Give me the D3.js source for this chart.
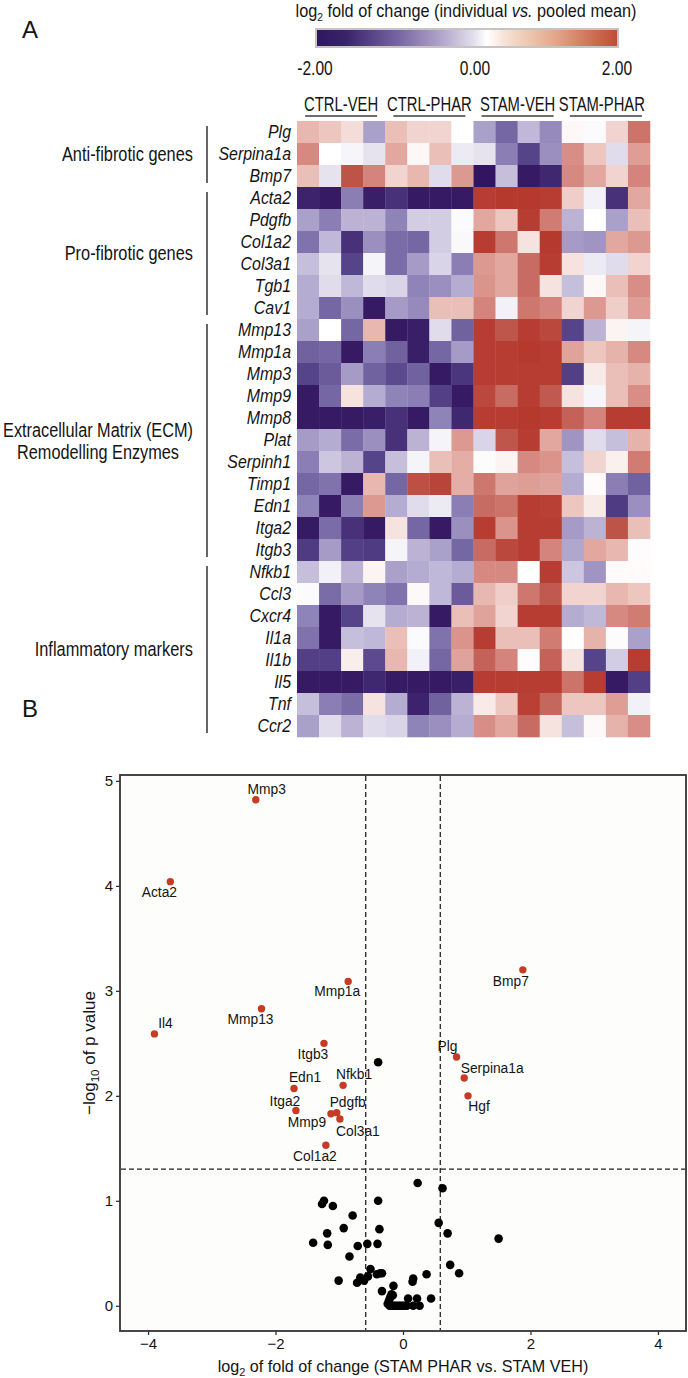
<!DOCTYPE html>
<html><head><meta charset="utf-8">
<script src="https://cdn.jsdelivr.net/npm/d3@7"></script>
<style>body{margin:0;background:#fff;} svg{display:block;font-family:"Liberation Sans",Arial,Helvetica,sans-serif;}</style>
</head><body><svg id="c" width="688" height="1378"></svg>
<script>
// ---------------- DATA ----------------
const genes = ["Plg","Serpina1a","Bmp7","Acta2","Pdgfb","Col1a2","Col3a1","Tgb1","Cav1",
  "Mmp13","Mmp1a","Mmp3","Mmp9","Mmp8","Plat","Serpinh1","Timp1","Edn1","Itga2","Itgb3",
  "Nfkb1","Ccl3","Cxcr4","Il1a","Il1b","Il5","Tnf","Ccr2"];
const sampleGroups = ["CTRL-VEH","CTRL-PHAR","STAM-VEH","STAM-PHAR"];
const samplesPerGroup = 4;
const categoryNames = [["Anti-fibrotic genes"],["Pro-fibrotic genes"],["Extracellular Matrix (ECM)","Remodelling Enzymes"],["Inflammatory markers"]];
const categoryFirst = [0,3,9,20];
const categoryLast = [2,8,19,27];
const colorbarLabels = ["-2.00","0.00","2.00"];
const colorbarValues = [-2,0,2];
// log2 fold change (individual vs pooled mean), rows = genes, cols = 16 samples
const heatValues = [
 [0.5,0.4,0.25,-0.7,0.45,0.3,0.3,0.0,-0.7,-1.2,-0.5,-0.9,0.05,-0.03,0.3,1.2],
 [0.95,0.0,-0.07,-0.2,0.65,0.05,0.45,-0.15,-0.2,-1.0,-1.5,-0.85,0.9,0.4,-0.25,0.75],
 [0.45,-0.2,1.6,1.0,0.3,0.5,-0.25,0.8,-2,-0.45,-1.95,-1.8,0.95,0.65,0.3,1.0],
 [-1.85,-1.95,-1.0,-1.9,-1.7,-1.95,-1.95,-1.95,1.9,1.95,1.95,1.9,0.35,-0.1,-1.7,0.65],
 [-0.7,-1.0,-0.55,-0.55,-0.95,-0.35,-0.35,-0.03,0.65,0.4,1.9,1.1,-0.55,0,-0.7,0.45],
 [-1.1,-0.5,-1.7,-0.85,-1.15,-1.2,-0.35,-0.05,1.9,1.15,0.2,1.95,-0.75,-0.8,0.65,0.8],
 [-0.45,-0.2,-1.5,-0.08,-1.15,-0.75,-0.3,-1.0,0.8,0.65,1.3,1.9,0.2,-0.15,-0.25,0.3],
 [-0.6,-0.25,-0.5,-0.25,-0.3,-0.95,-0.85,-0.6,0.85,0.65,1.3,0.2,-0.45,0.05,0.45,0.9],
 [-0.6,-1.2,-0.85,-1.95,-0.75,-0.9,0.45,0.45,1.0,-0.1,1.15,1.0,0.3,0.8,0.35,0.75],
 [-0.7,0,-1.2,0.5,-1.95,-1.9,-0.25,-1.25,1.9,1.55,1.9,1.75,-1.5,-0.55,0.08,-0.08],
 [-1.25,-1.2,-1.95,-1.0,-1.25,-1.9,-1.2,-0.75,1.9,1.9,1.95,1.9,0.7,0.4,0.55,0.95],
 [-1.5,-1.3,-0.75,-1.25,-1.45,-1.25,-1.95,-1.65,1.9,1.9,1.9,1.9,-1.55,0.15,0.45,0.55],
 [-1.95,-1.2,0.2,-0.6,-0.95,-1.0,-1.55,-1.95,1.75,1.3,1.9,1.5,0.2,-0.07,0.45,0.9],
 [-1.95,-1.95,-1.95,-1.9,-1.7,-1.95,-0.95,-1.8,1.9,1.9,1.95,1.9,1.4,1.0,1.9,1.9],
 [-0.75,-0.6,-1.15,-0.85,-1.7,-0.55,-0.08,0.8,-0.3,1.55,1.9,0.65,-0.8,-0.25,-0.45,0.55],
 [-1.0,-0.4,-0.55,-1.5,-0.45,-0.08,0.45,0.6,-0.02,0.08,0.95,0.85,-0.45,0.3,0.1,1.1],
 [-1.2,-1.1,-1.95,0.5,-1.2,1.65,1.8,0.6,1.15,0.7,0.75,0.7,-0.6,0.03,-1.0,-1.25],
 [-0.95,-1.95,-1.0,0.8,-0.6,-0.25,-0.15,-1.0,1.3,1.2,1.9,1.85,0.4,0.15,-1.6,-0.85],
 [-1.95,-1.15,-1.7,-1.95,0.2,-1.2,-1.95,-0.85,1.9,0.85,1.9,1.9,-0.75,-0.55,1.6,0.45],
 [-1.6,-0.75,-1.55,-1.6,-0.08,-0.55,-0.7,-1.2,1.3,1.75,1.9,1.0,-0.65,0.65,0.5,0.02],
 [-0.45,-0.1,-0.55,0.08,-0.7,-0.6,-0.5,-0.6,0.95,0.95,0,1.9,-0.4,-0.8,0.03,0.03],
 [-0.03,-1.15,-0.75,-0.95,-1.1,0.04,-0.5,-1.3,0.5,0.35,1.15,1.5,0.3,0.3,0.5,0.4],
 [-0.95,-1.95,-1.5,-0.2,-0.6,-0.55,-1.95,0.45,0.7,0.3,1.9,1.9,-0.6,-0.5,0.95,1.1],
 [-1.1,-1.95,-0.45,-0.5,0.45,-0.03,-1.1,0.85,1.9,0.45,0.45,1.1,0,0.55,-0.02,-0.7],
 [-1.55,-1.55,0.12,-1.45,0.5,-0.1,-1.2,0.7,1.4,1.0,0.02,1.4,0.2,-1.5,-0.35,1.9],
 [-1.95,-1.95,-1.95,-1.8,-1.95,-1.95,-1.95,-1.9,1.9,1.9,1.9,1.9,1.2,1.9,-1.95,-1.55],
 [-0.45,-1.0,-1.15,0.2,-0.6,-1.85,-1.25,-0.55,0.15,0.4,1.85,1.35,0.4,0.4,0.75,-0.1],
 [-0.7,-0.25,-0.55,-0.25,-0.3,-0.95,-0.85,-0.6,0.9,0.65,1.3,0.2,-0.45,0.04,0.55,0.9]
];
// Volcano: significant (red, labelled) genes
const sigGenes = ["Mmp3","Acta2","Bmp7","Mmp1a","Mmp13","Il4","Itgb3","Plg","Serpina1a","Hgf","Edn1","Nfkb1","Itga2","Pdgfb","Mmp9","Col3a1","Col1a2"];
const sigLogFC = [-2.31,-3.65,1.88,-0.86,-2.22,-3.90,-1.24,0.84,0.96,1.02,-1.71,-0.94,-1.68,-1.04,-1.13,-0.99,-1.21];
const sigNegLogP = [4.82,4.04,3.20,3.09,2.83,2.59,2.50,2.37,2.17,2.00,2.07,2.10,1.86,1.84,1.83,1.78,1.53];
// non-significant (black) genes
const nsLogFC = [-0.39,0.23,0.62,-1.24,-1.27,-1.10,-0.39,-0.79,-0.93,-0.37,0.56,0.70,-1.19,1.50,-1.41,-1.18,-0.71,-0.56,-0.40,-0.84,
  0.74,0.88,0.37,-0.51,-0.41,-0.36,-0.33,-0.55,-0.67,-0.61,-0.72,-1.01,0.16,0.15,-0.15,-0.33,0.44,0.08,0.22,-0.16,
  -0.18,-0.20,-0.22,-0.24,-0.21,-0.18,-0.15,-0.12,-0.09,-0.06,-0.03,0.00,0.03,0.06,0.16,0.26];
const nsNegLogP = [2.32,1.17,1.12,1.00,0.97,0.95,1.00,0.86,0.74,0.73,0.79,0.69,0.69,0.64,0.60,0.58,0.57,0.59,0.59,0.47,
  0.39,0.31,0.30,0.35,0.30,0.31,0.31,0.28,0.27,0.24,0.22,0.24,0.26,0.23,0.19,0.14,0.07,0.07,0.07,0.10,
  0.11,0.08,0.05,0.02,0,0,0,0,0,0,0,0,0,0,0,0];
const xTicks = [-4,-2,0,2,4];
const yTicks = [0,1,2,3,4,5];
const fcCut = 0.585, pCut = 1.301;

// ---------------- LAYOUT (label offsets in px) ----------------
const labelOffsets = [[11,-6],[-11,15],[-12,16],[-11,15],[-11,15],[11,-6],[-11,16],[-9,-6],[28,-5],[11,15],[11,-6],[11,-6],[-11,-5],[11,-6],[-24,13],[18,17],[-11,16]];

const svg = d3.select("#c");
const TXT = "#141414";
function ntext(parent, x, y, sx, anchor, size) {
  const g = parent.append("g").attr("transform", `translate(${x},${y}) scale(${sx},1)`);
  return g.append("text").attr("text-anchor", anchor).attr("font-size", size).attr("fill", TXT);
}

// ---------------- PANEL A ----------------
ntext(svg, 22, 38, 1, "start", 24).text("A");
ntext(svg, 22, 717, 1, "start", 24).text("B");

// title
const t = ntext(svg, 466, 17, 0.93, "middle", 17.5);
t.append("tspan").text("log");
t.append("tspan").attr("font-size", 11).attr("dy", 4).text("2");
t.append("tspan").attr("dy", -4).text(" fold of change (individual ");
t.append("tspan").attr("font-style", "italic").text("vs.");
t.append("tspan").text(" pooled mean)");

// colorbar
const defs = svg.append("defs");
const grad = defs.append("linearGradient").attr("id", "cb");
[[0,"#2e175e"],[0.1,"#3a2468"],[0.28,"#7a68a4"],[0.42,"#b2a8cc"],[0.52,"#e2deec"],[0.565,"#ffffff"],[0.63,"#f6e0d2"],[0.78,"#e4ac8e"],[1,"#bf4a33"]]
  .forEach(s => grad.append("stop").attr("offset", s[0]).attr("stop-color", s[1]));
svg.append("rect").attr("x", 316).attr("y", 29).attr("width", 302).attr("height", 18)
  .attr("fill", "url(#cb)").attr("stroke", "#c4c4c4").attr("stroke-width", 2);
const cbLabelX = d3.scaleLinear().domain([-2, 0, 2]).range([315, 475, 617]);
colorbarLabels.forEach((l, i) => ntext(svg, cbLabelX(colorbarValues[i]), 75, 0.76, "middle", 20.5).text(l));

// heatmap scales
const nCols = sampleGroups.length * samplesPerGroup;
const xH = d3.scaleBand().domain(d3.range(nCols)).range([297, 650]);
const yH = d3.scaleBand().domain(d3.range(genes.length)).range([121, 737]);
const color = d3.scaleLinear()
  .domain([-2, -1.5, -1, -0.5, 0, 0.5, 1, 1.5, 2])
  .range(["#321560", "#56448a", "#8a7eb4", "#c0b8d8", "#ffffff", "#e8b8b0", "#d4847c", "#c05a50", "#b5352a"])
  .clamp(true);

const cells = [];
heatValues.forEach((row, r) => row.forEach((v, c) => cells.push({r, c, v})));
svg.append("g").selectAll("rect").data(cells).join("rect")
  .attr("x", d => xH(d.c)).attr("y", d => yH(d.r))
  .attr("width", xH.bandwidth() + 0.3).attr("height", yH.bandwidth() + 0.3)
  .attr("fill", d => color(d.v));

// column group labels
sampleGroups.forEach((g, i) => {
  const cx = (xH(i * samplesPerGroup) + xH(i * samplesPerGroup + samplesPerGroup - 1) + xH.bandwidth()) / 2;
  ntext(svg, cx - (i === 3 ? 4 : 0), 111, 0.76, "middle", 19.5).text(g);
  svg.append("line").attr("x1", cx - 36).attr("x2", cx + 36).attr("y1", 116).attr("y2", 116)
    .attr("stroke", "#6e6e6e").attr("stroke-width", 2);
});

// row labels
genes.forEach((g, i) => {
  ntext(svg, 291, yH(i) + yH.bandwidth() / 2 + 6, 0.86, "end", 18.5).attr("font-style", "italic").text(g);
});

// category brackets + labels
categoryNames.forEach((names, i) => {
  const y0 = yH(categoryFirst[i]), y1 = yH(categoryLast[i]) + yH.bandwidth();
  svg.append("line").attr("x1", 207).attr("x2", 207).attr("y1", y0 + 5).attr("y2", y1 - 4)
    .attr("stroke", "#555").attr("stroke-width", 1.8);
  const cy = (y0 + y1) / 2;
  if (names.length === 1) {
    ntext(svg, 193, cy + 6.5, 0.84, "end", 19.5).text(names[0]);
  } else {
    ntext(svg, 98, cy - 3, 0.835, "middle", 19.5).text(names[0]);
    ntext(svg, 98, cy + 19, 0.835, "middle", 19.5).text(names[1]);
  }
});

// ---------------- PANEL B ----------------
const x = d3.scaleLinear().domain([-4.44, 4.44]).range([120, 686]);
const y = d3.scaleLinear().domain([-0.24, 5.056]).range([1331, 775]);

svg.append("rect").attr("x", 120).attr("y", 775).attr("width", 566).attr("height", 556).attr("fill", "#fdfdfb");

const dash = svg.append("g").attr("stroke", "#222").attr("stroke-width", 1.3).attr("stroke-dasharray", "5,3");
[-fcCut, fcCut].forEach(v => dash.append("line").attr("x1", x(v)).attr("x2", x(v)).attr("y1", 776).attr("y2", 1330));
dash.append("line").attr("x1", 121).attr("x2", 685).attr("y1", y(pCut)).attr("y2", y(pCut));

svg.append("g").selectAll("circle").data(nsLogFC.map((v, i) => [v, nsNegLogP[i]])).join("circle")
  .attr("cx", d => x(d[0])).attr("cy", d => y(d[1])).attr("r", 4.3).attr("fill", "#000");
const sig = sigGenes.map((g, i) => ({g, fc: sigLogFC[i], p: sigNegLogP[i], o: labelOffsets[i]}));
svg.append("g").selectAll("circle").data(sig).join("circle")
  .attr("cx", d => x(d.fc)).attr("cy", d => y(d.p)).attr("r", 3.7).attr("fill", "#c43c26");
svg.append("g").selectAll("text").data(sig).join("text")
  .attr("x", d => x(d.fc) + d.o[0]).attr("y", d => y(d.p) + d.o[1])
  .attr("text-anchor", "middle").attr("font-size", 13.8).attr("fill", TXT).text(d => d.g);

svg.append("rect").attr("x", 120).attr("y", 775).attr("width", 566).attr("height", 556)
  .attr("fill", "none").attr("stroke", "#333").attr("stroke-width", 1.8);

// axes
const xAxis = d3.axisBottom(x).tickValues(xTicks).tickSize(4).tickPadding(3).tickFormat(d3.format("d"));
const gx = svg.append("g").attr("transform", "translate(0,1331)").call(xAxis);
gx.select(".domain").remove();
gx.selectAll("line").attr("stroke", "#333").attr("stroke-width", 1.3);
gx.selectAll("text").attr("font-size", 15).attr("fill", TXT).attr("font-family", "Liberation Sans, Arial, sans-serif");
const yAxis = d3.axisLeft(y).tickValues(yTicks).tickSize(4).tickPadding(3).tickFormat(d3.format("d"));
const gy = svg.append("g").attr("transform", "translate(120,0)").call(yAxis);
gy.select(".domain").remove();
gy.selectAll("line").attr("stroke", "#333").attr("stroke-width", 1.3);
gy.selectAll("text").attr("font-size", 15).attr("fill", TXT).attr("font-family", "Liberation Sans, Arial, sans-serif");

const xt = ntext(svg, 403, 1372, 0.95, "middle", 17);
xt.append("tspan").text("log");
xt.append("tspan").attr("font-size", 11.5).attr("dy", 4).text("2");
xt.append("tspan").attr("dy", -4).text(" of fold of change (STAM PHAR vs. STAM VEH)");

const ygrp = svg.append("g").attr("transform", "translate(95,1053) rotate(-90)");
const yt = ygrp.append("text").attr("text-anchor", "middle").attr("font-size", 17).attr("fill", TXT);
yt.append("tspan").text("\u2212log");
yt.append("tspan").attr("font-size", 11.5).attr("dy", 4).text("10");
yt.append("tspan").attr("dy", -4).text(" of p value");
</script></body></html>
